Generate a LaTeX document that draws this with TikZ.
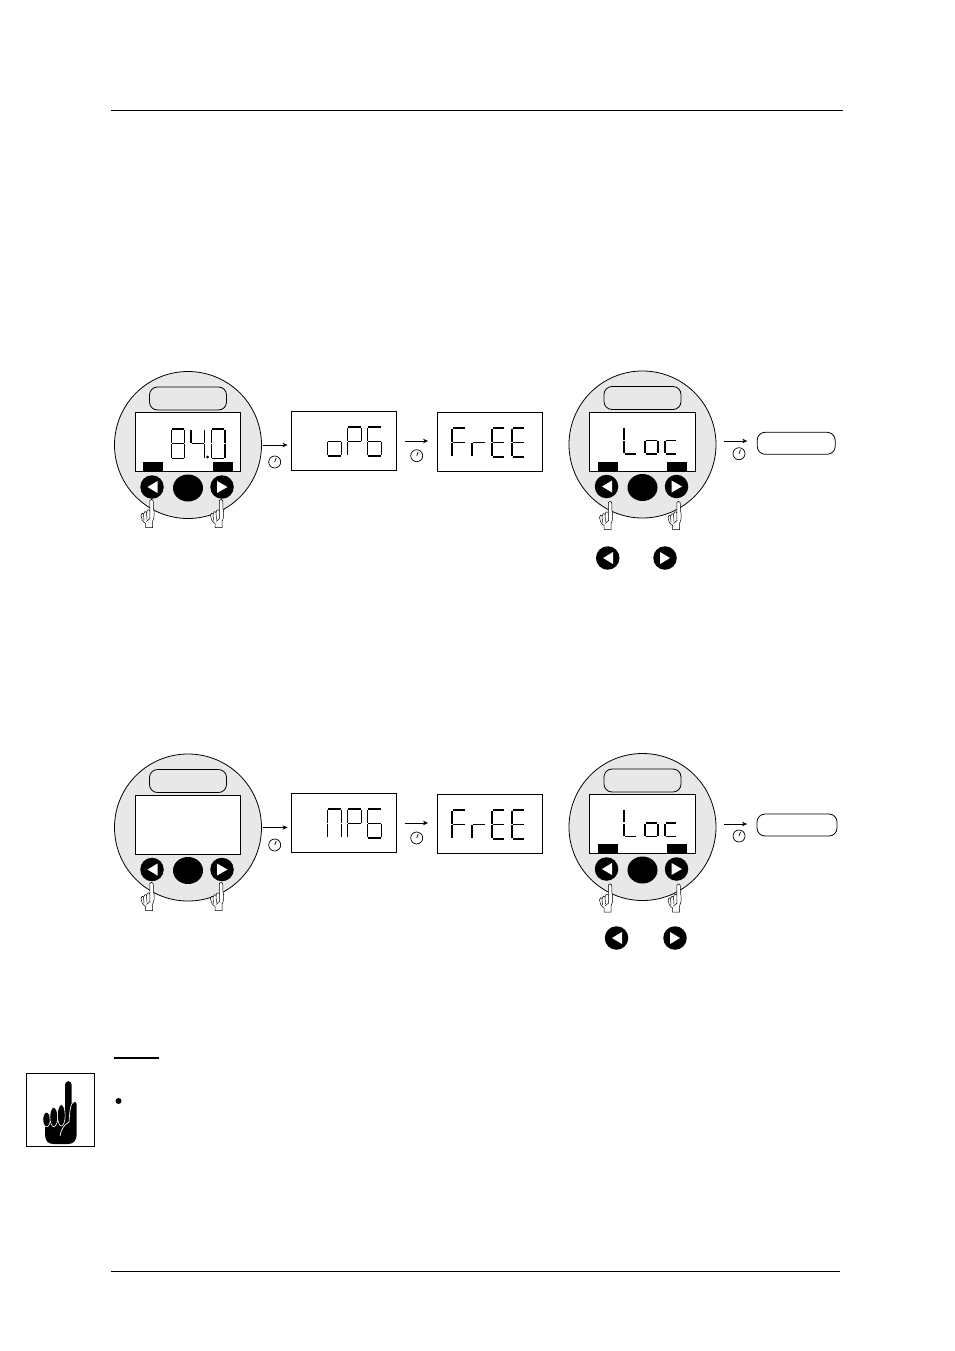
\documentclass[tikz,border=0pt]{standalone}
\usepackage{xcolor}
\usepackage{tikz}
\usetikzlibrary{arrows.meta, positioning, calc, shapes.geometric}
\definecolor{dialgray}{HTML}{E8E8E8}
\tikzset{
  dialbody/.style={circle, draw=black, fill=dialgray, line width=0.8pt, minimum size=147pt, inner sep=0pt},
  dialpill/.style={draw=black, fill=dialgray, rounded corners=8pt, line width=0.8pt, minimum width=77pt, minimum height=23pt, inner sep=0pt},
  lcdbox/.style={rectangle, draw=black, fill=white, line width=0.8pt, minimum width=105.5pt, minimum height=59pt, inner sep=0pt},
  softkey/.style={rectangle, fill=black, minimum width=20pt, minimum height=9pt, inner sep=0pt},
  roundkey/.style={circle, fill=black, minimum size=23.5pt, inner sep=0pt},
  enterkey/.style={ellipse, fill=black, minimum width=30pt, minimum height=27pt, inner sep=0pt},
  clockface/.style={circle, draw=black, fill=white, line width=0.7pt, minimum size=12pt, inner sep=0pt},
  resultbox/.style={draw=black, fill=white, rounded corners=8pt, line width=0.8pt, minimum width=78pt, minimum height=22pt, inner sep=0pt},
  lcdseg/.style={line width=1.4pt},
  flowarrow/.style={-{Stealth[length=5pt, width=4.5pt, inset=1.5pt]}, line width=0.7pt},
}
% segments of one display character, unit box
\newcommand{\lcda}{(0.05,0) -- (0.95,0)}
\newcommand{\lcdb}{(1,0.02) -- (1,0.48)}
\newcommand{\lcdc}{(1,0.52) -- (1,0.98)}
\newcommand{\lcdd}{(0.05,1) -- (0.95,1)}
\newcommand{\lcde}{(0,0.52) -- (0,0.98)}
\newcommand{\lcdf}{(0,0.02) -- (0,0.48)}
\newcommand{\lcdg}{(0.05,0.5) -- (0.95,0.5)}
% x, y, width, height, segments
\newcommand{\lcdchar}[5]{
  \begin{scope}[shift={(#1,#2)}, xscale=#3, yscale=#4]
    \foreach \seg in {#5}{
      \draw[lcdseg] \csname lcd\seg\endcsname;
    }
  \end{scope}
}
% x, y of the touching finger tip
\newcommand{\drawhand}[2]{
  \begin{scope}[shift={(#1,#2)}]
    \draw[fill=white, line width=0.5pt]
      (-1.7,1) .. controls (-1.7,-0.5) and (1.7,-0.5) .. (1.7,1) -- (2,9)
      .. controls (3,13) and (3.2,18) .. (1,22) -- (1,28) -- (-6,28) -- (-6,24)
      .. controls (-9,22) and (-10.5,19) .. (-10.5,16)
      .. controls (-10.5,13.5) and (-8.5,13) .. (-8,14.5)
      .. controls (-7.5,12) and (-5.5,11) .. (-5,13)
      .. controls (-4.5,10) and (-2.5,9.5) .. (-1.7,11) -- cycle;
    \draw[line width=0.5pt] (-8,14.5) -- (-7.5,21);
    \draw[line width=0.5pt] (-5,13) -- (-4.5,20);
    \draw[line width=0.5pt] (-1.7,11) -- (-1.5,19) -- (-5,22);
  \end{scope}
}
% name, x, y
\newcommand{\drawclock}[3]{
  \node[clockface] (#1) at (#2,#3) {};
  \draw[line width=0.7pt] (#1.center) -- ++(1.5,-4);
}
% name, x, y of the dial centre
\newcommand{\drawdial}[3]{
  \node[dialbody] (#1) at (#2,#3) {};
  \begin{scope}[shift={(#2,#3)}]
    \node[dialpill] (#1pill) at (0,-46.5) {};
    \node[lcdbox] (#1screen) at (0,-3) {};
    \node[roundkey] (#1left) at (-36,42) {};
    \node[enterkey] (#1enter) at (0,43) {};
    \node[roundkey] (#1right) at (34,42) {};
    \fill[white] (-40.5,42) -- (-30.5,36) -- (-30.5,48) -- cycle;
    \fill[white] (39.5,42) -- (29,36) -- (29,48) -- cycle;
  \end{scope}
}
\begin{document}
\begin{tikzpicture}[x=1pt, y=-1pt]
  \useasboundingbox (0,0) rectangle (954,1351);
  % Header and footer rules
  \draw[line width=0.8pt] (111,110.7) -- (843,110.7);
  \draw[line width=0.8pt] (111,1271.7) -- (840,1271.7);

  % Row 1, first dial
  \drawdial{dialA}{188}{445}
  \node[softkey] (dialAbarl) at (153,466.7) {};
  \node[softkey] (dialAbarr) at (222.5,466.7) {};
  \lcdchar{171.5}{429}{13}{29.5}{a,b,c,d,e,f,g}
  \lcdchar{191}{429}{13.5}{29.5}{b,c,f,g}
  \lcdchar{211.5}{429}{13.5}{29.5}{a,b,c,d,e,f}
  \fill (207.7,457) circle (1.5);
  \drawhand{151.5}{499.5}
  \drawhand{221}{499.5}
  % Row 1, first box
  \node[lcdbox] (opsbox) at (344,441) {};
  \lcdchar{327.5}{427}{14}{29}{c,d,e,g}
  \lcdchar{347.5}{427}{14}{29}{a,b,e,f,g}
  \lcdchar{367.5}{427}{14}{29}{a,c,d,e,f,g}
  % Row 1, second box
  \node[lcdbox] (freeboxA) at (489.7,442) {};
  \lcdchar{452}{428}{14}{29}{a,e,f,g}
  \lcdchar{472}{428}{14}{29}{e,g}
  \lcdchar{492}{428}{13}{29}{a,d,e,f,g}
  \lcdchar{512}{428}{13}{29}{a,d,e,f,g}
  % Row 1, second dial
  \drawdial{dialB}{642.5}{444.5}
  \node[softkey] (dialBbarl) at (608,466.2) {};
  \node[softkey] (dialBbarr) at (677,466.2) {};
  \lcdchar{624}{427}{13}{27}{d,e,f}
  \lcdchar{645}{427}{13}{27}{c,d,e,g}
  \lcdchar{665}{427}{12}{27}{d,e,g}
  \drawhand{610}{501.5}
  \drawhand{678.5}{501.5}
  \node[roundkey] (keyAl) at (607.7,558) {};
  \fill[white] (603.2,558) -- (613,552) -- (613,564) -- cycle;
  \node[roundkey] (keyAr) at (665,558) {};
  \fill[white] (670,558) -- (660,552) -- (660,564) -- cycle;
  \node[resultbox] (resultA) at (796.2,443.3) {};
  % Row 1, arrows and clocks
  \draw[flowarrow, shorten <=1.5pt, shorten >=3.3pt] (dialA.east) -- (dialA.east -| opsbox.west);
  \draw[flowarrow, shorten <=7.5pt, shorten >=8.5pt] (opsbox.east) -- (opsbox.east -| freeboxA.west);
  \coordinate (tailA) at (724.3,441);
  \draw[flowarrow, shorten >=9.5pt] (tailA) -- (tailA -| resultA.west);
  \drawclock{clockA}{274.7}{462}
  \drawclock{clockB}{416.7}{455.7}
  \drawclock{clockC}{739}{453.7}

  % Row 2, first dial
  \drawdial{dialC}{188}{827.5}
  \drawhand{151.5}{882.5}
  \drawhand{221}{882.5}
  % Row 2, first box
  \node[lcdbox] (mpsbox) at (344,823) {};
  \lcdchar{327.5}{809}{14}{29}{a,b,c,e,f}
  \lcdchar{347.5}{809}{14}{29}{a,b,e,f,g}
  \lcdchar{367.5}{809}{14}{29}{a,c,d,e,f,g}
  % Row 2, second box
  \node[lcdbox] (freeboxB) at (489.7,824) {};
  \lcdchar{452}{810}{14}{29}{a,e,f,g}
  \lcdchar{472}{810}{14}{29}{e,g}
  \lcdchar{492}{810}{13}{29}{a,d,e,f,g}
  \lcdchar{512}{810}{13}{29}{a,d,e,f,g}
  % Row 2, second dial
  \drawdial{dialD}{642.5}{827}
  \node[softkey] (dialDbarl) at (608,848.7) {};
  \node[softkey] (dialDbarr) at (677,848.7) {};
  \lcdchar{624}{809.5}{13}{27}{d,e,f}
  \lcdchar{645}{809.5}{13}{27}{c,d,e,g}
  \lcdchar{665}{809.5}{12}{27}{d,e,g}
  \drawhand{610}{884}
  \drawhand{678.5}{884}
  \node[roundkey] (keyBl) at (616.5,938) {};
  \fill[white] (612,938) -- (622,932) -- (622,944) -- cycle;
  \node[roundkey] (keyBr) at (675,938) {};
  \fill[white] (680,938) -- (670,932) -- (670,944) -- cycle;
  \node[resultbox, minimum width=80pt] (resultB) at (797,825) {};
  % Row 2, arrows and clocks
  \draw[flowarrow, shorten <=1.5pt, shorten >=3.3pt] (dialC.east) -- (dialC.east -| mpsbox.west);
  \draw[flowarrow, shorten <=7.5pt, shorten >=8.5pt] (mpsbox.east) -- (mpsbox.east -| freeboxB.west);
  \coordinate (tailB) at (724.3,824);
  \draw[flowarrow, shorten >=9.5pt] (tailB) -- (tailB -| resultB.west);
  \drawclock{clockD}{274.7}{845}
  \drawclock{clockE}{416.7}{838}
  \drawclock{clockF}{739}{836}

  % Note rule and bullet
  \draw[line width=1.2pt] (114,1058) -- (159,1058);
  \fill (118.5,1101) circle (3);
  % Pointing hand
  \draw[line width=0.8pt, fill=white] (26.3,1073.3) rectangle (94.3,1146.7);
  \fill (45,1122) -- (45,1134) .. controls (45,1141) and (48,1144) .. (54,1144)
    -- (68,1144) .. controls (74,1144) and (76.7,1140) .. (76.7,1134)
    -- (76.7,1104) .. controls (76.7,1102) and (75,1101) .. (71.7,1103) -- (71.7,1086)
    .. controls (71.7,1079.5) and (65,1079.5) .. (65,1086) -- (65,1122) -- cycle;
  \draw[fill=black, draw=white, line width=0.6pt] (46.6,1119.5) ellipse (3.7 and 7.3);
  \draw[fill=black, draw=white, line width=0.6pt] (53.8,1117) ellipse (3.9 and 9.7);
  \draw[fill=black, draw=white, line width=0.6pt] (61.3,1115.3) ellipse (3.9 and 10.7);
  \draw[white, line width=0.7pt] (75,1101) .. controls (70,1103) and (70,1110) .. (69,1122)
    .. controls (64,1125) and (61,1129) .. (60,1136);
\end{tikzpicture}
\end{document}
